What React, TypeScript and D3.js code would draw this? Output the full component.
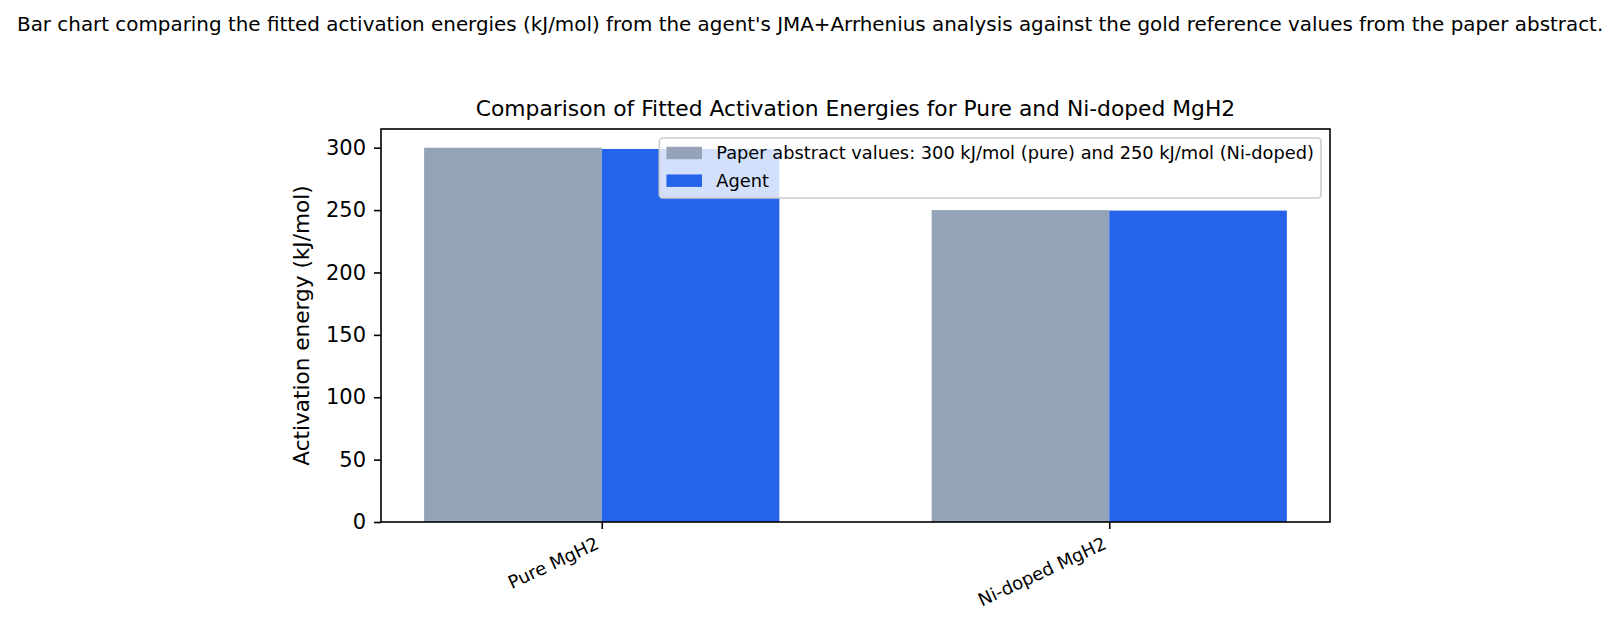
import React, { useEffect, useRef } from 'react';
import * as d3 from 'd3';

const categories = ['Pure MgH2', 'Ni-doped MgH2'];
const paperValues = [300, 250];
const agentValues = [299, 249.6];
const yTicks = [0, 50, 100, 150, 200, 250, 300];
const seriesNames = [
  'Paper abstract values: 300 kJ/mol (pure) and 250 kJ/mol (Ni-doped)',
  'Agent',
];
const seriesColors = ['#94a3b8', '#2563eb'];

const W = 1620;
const H = 628;
const FONT = '"DejaVu Sans", sans-serif';

const App = () => {
  const svgRef = useRef(null);

  useEffect(() => {
    const margin = { top: 129, right: 290, bottom: 106, left: 381 };
    const width = W - margin.left - margin.right;
    const height = H - margin.top - margin.bottom;
    const barW = 0.35;

    const svg = d3.select(svgRef.current);
    svg.selectAll('*').remove();
    svg.attr('width', W).attr('height', H).attr('viewBox', [0, 0, W, H]);

    svg.append('rect').attr('width', W).attr('height', H).attr('fill', 'white');

    // caption above the figure
    svg.append('text')
      .attr('x', 17)
      .attr('y', 31)
      .attr('font-family', FONT)
      .attr('font-size', 19.9)
      .attr('fill', '#000')
      .text("Bar chart comparing the fitted activation energies (kJ/mol) from the agent's JMA+Arrhenius analysis against the gold reference values from the paper abstract.");

    // scales
    const pad = (categories.length - 1 + 2 * barW) * 0.05;
    const x = d3.scaleLinear()
      .domain([-barW - pad, categories.length - 1 + barW + pad])
      .range([0, width]);
    const y = d3.scaleLinear().domain([0, 315]).range([height, 0]);

    const g = svg.append('g').attr('transform', `translate(${margin.left},${margin.top})`);

    // bars
    const series = [paperValues, agentValues];
    series.forEach((vals, si) => {
      g.selectAll(`.bar${si}`)
        .data(vals)
        .enter().append('rect')
        .attr('x', (d, i) => x(i - barW + si * barW))
        .attr('width', x(barW) - x(0))
        .attr('y', d => y(d))
        .attr('height', d => y(0) - y(d))
        .attr('fill', seriesColors[si]);
    });

    // y axis
    const yAxis = g.append('g')
      .call(d3.axisLeft(y).tickValues(yTicks).tickSize(7).tickPadding(8));
    yAxis.select('.domain').remove();
    yAxis.selectAll('line').attr('stroke', '#000').attr('stroke-width', 1.6);
    yAxis.selectAll('text')
      .attr('font-family', FONT)
      .attr('font-size', 21)
      .attr('fill', '#000');

    // x axis
    const xAxis = g.append('g')
      .attr('transform', `translate(0,${height})`)
      .call(d3.axisBottom(x)
        .tickValues(categories.map((c, i) => i))
        .tickFormat((d) => categories[d as number])
        .tickSize(7));
    xAxis.select('.domain').remove();
    xAxis.selectAll('line').attr('stroke', '#000').attr('stroke-width', 1.6);
    xAxis.selectAll('text')
      .attr('font-family', FONT)
      .attr('font-size', 18)
      .attr('fill', '#000')
      .attr('text-anchor', 'end')
      .attr('dy', null)
      .attr('y', 0)
      .attr('transform', 'translate(-2,26) rotate(-25)');

    // frame
    g.append('rect')
      .attr('width', width)
      .attr('height', height)
      .attr('fill', 'none')
      .attr('stroke', '#000')
      .attr('stroke-width', 1.6);

    // title
    g.append('text')
      .attr('x', width / 2)
      .attr('y', -13)
      .attr('text-anchor', 'middle')
      .attr('font-family', FONT)
      .attr('font-size', 21.8)
      .attr('fill', '#000')
      .text('Comparison of Fitted Activation Energies for Pure and Ni-doped MgH2');

    // y label
    svg.append('text')
      .attr('transform', `translate(309,${margin.top + height / 2}) rotate(-90)`)
      .attr('text-anchor', 'middle')
      .attr('font-family', FONT)
      .attr('font-size', 21.6)
      .attr('fill', '#000')
      .text('Activation energy (kJ/mol)');

    // legend
    const fs = 17.8;
    const lg = g.append('g');
    const box = lg.append('rect')
      .attr('rx', 3.5)
      .attr('fill', 'rgba(255,255,255,0.8)')
      .attr('stroke', '#cccccc')
      .attr('stroke-width', 1.6);
    const rows = lg.selectAll('.row')
      .data(seriesNames)
      .enter().append('g')
      .attr('transform', (d, i) => `translate(0,${i * 27.7})`);
    rows.append('rect')
      .attr('x', 0.4 * fs)
      .attr('y', -0.35 * fs)
      .attr('width', 2 * fs)
      .attr('height', 0.7 * fs)
      .attr('fill', (d, i) => seriesColors[i]);
    rows.append('text')
      .attr('x', 3.2 * fs)
      .attr('y', 0.36 * fs)
      .attr('font-family', FONT)
      .attr('font-size', fs)
      .attr('fill', '#000')
      .text(d => d);
    const textW = d3.max(rows.selectAll('text').nodes() as SVGTextElement[], n => n.getComputedTextLength()) || 0;
    const boxW = 3.2 * fs + textW + 0.4 * fs;
    const boxH = 60;
    box.attr('x', 0).attr('y', -15).attr('width', boxW).attr('height', boxH);
    lg.attr('transform', `translate(${width - 9 - boxW},${9 + 15})`);
  }, []);

  return (
    <div style={{ position: 'fixed', left: 0, top: 0 }}>
      <svg ref={svgRef}></svg>
    </div>
  );
};

export default App;
